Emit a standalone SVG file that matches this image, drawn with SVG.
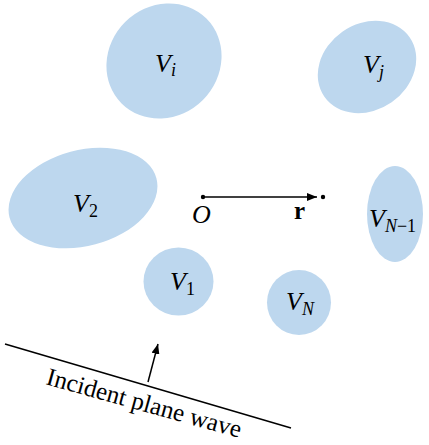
<svg xmlns="http://www.w3.org/2000/svg" width="429" height="445" viewBox="0 0 429 445">
<style>
.s{fill:#bdd7ee;stroke:none}
.l{font-family:"Liberation Serif","Times New Roman",serif;font-size:26px;font-style:italic;fill:#000}
.sub{font-size:18px}
.up{font-style:normal}
.ln{stroke:#000;stroke-width:1.5;fill:none}
</style>
<defs>
<marker id="ah" markerWidth="10" markerHeight="8" refX="10" refY="4" orient="auto" markerUnits="userSpaceOnUse">
<path d="M0,0 L10,4 L0,8 Z" fill="#000"/>
</marker>
</defs>
<rect width="429" height="445" fill="#fff"/>
<g id="Vi"><ellipse class="s" cx="164" cy="61" rx="60" ry="55" transform="rotate(-45 164 61)"/><text class="l" x="155" y="72">V<tspan class="sub" dy="4">i</tspan></text></g>
<g id="Vj"><ellipse class="s" cx="367" cy="67" rx="52" ry="43" transform="rotate(-35 367 67)"/><text class="l" x="363" y="73">V<tspan class="sub" dy="5">j</tspan></text></g>
<g id="V2"><ellipse class="s" cx="83" cy="198" rx="76" ry="48" transform="rotate(-15 83 198)"/><text class="l" x="73" y="212">V<tspan class="sub up" dy="5">2</tspan></text></g>
<g id="VN1"><ellipse class="s" cx="395" cy="214" rx="28" ry="48"/><text class="l" x="369" y="227">V<tspan class="sub" dy="5">N</tspan><tspan class="sub up">−1</tspan></text></g>
<g id="V1"><ellipse class="s" cx="178.5" cy="281.5" rx="35" ry="34"/><text class="l" x="170" y="290">V<tspan class="sub up" dy="5">1</tspan></text></g>
<g id="VN"><ellipse class="s" cx="299" cy="302.5" rx="32" ry="32.5"/><text class="l" x="286" y="310">V<tspan class="sub" dy="5">N</tspan></text></g>
<g id="origin">
<circle cx="203" cy="197" r="2.2" fill="#000"/>
<circle cx="323" cy="197" r="2.2" fill="#000"/>
<text class="l" x="192" y="223">O</text>
<text x="294" y="219" style="font-family:'Liberation Serif','Times New Roman',serif;font-size:25px;font-weight:bold">r</text>
</g>
<g id="wave">
<line class="ln" x1="5" y1="344" x2="291" y2="428"/>
<text x="45" y="384" transform="rotate(15.5 45 384)" style="font-family:'Liberation Serif','Times New Roman',serif;font-size:25px">Incident plane wave</text>
</g>
<g id="connectors">
<line class="ln" x1="203" y1="197" x2="317" y2="197" marker-end="url(#ah)"/>
<line class="ln" x1="148" y1="382" x2="158" y2="344" marker-end="url(#ah)"/>
</g>
</svg>
